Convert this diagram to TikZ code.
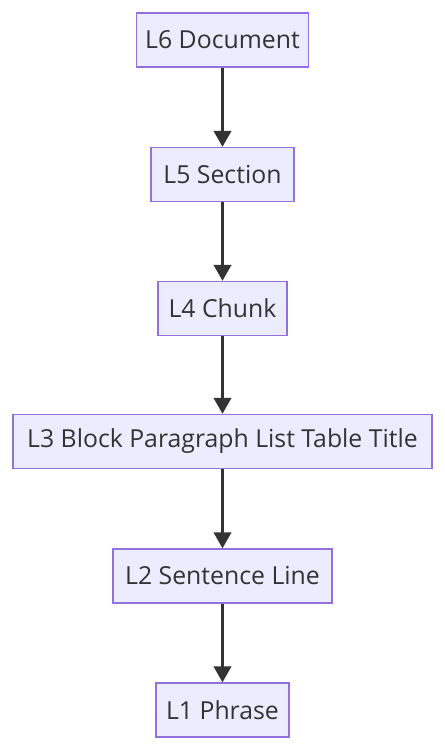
\documentclass[tikz,border=0pt]{standalone}
\usepackage{fontspec}
\setmainfont{Open Sans}
\usetikzlibrary{arrows.meta}
\definecolor{nodefill}{HTML}{ECECFF}
\definecolor{nodeborder}{HTML}{9370DB}
\definecolor{ink}{HTML}{333333}
\begin{document}
\begin{tikzpicture}[x=0.75pt,y=-0.75pt,
  box/.style={draw=nodeborder,fill=nodefill,line width=1pt,text=ink,
    font=\fontsize{18.6}{22}\selectfont,inner sep=0pt,minimum height=54*0.75pt},
  link/.style={draw=ink,line width=2.2pt,-{Triangle[length=12pt,width=13pt]}}]
\useasboundingbox (0,0) rectangle (445,750);
\node[box,minimum width=172*0.75pt] (l6) at (222.5,40) {L6 Document};
\node[box,minimum width=143*0.75pt] (l5) at (222.5,174.5) {L5 Section};
\node[box,minimum width=129*0.75pt] (l4) at (222.5,308.5) {L4 Chunk};
\node[box,minimum width=419*0.75pt] (l3) at (222.5,441.5) {L3 Block Paragraph List Table Title};
\node[box,minimum width=219*0.75pt] (l2) at (222.5,576) {L2 Sentence Line};
\node[box,minimum width=133*0.75pt] (l1) at (222.5,710) {L1 Phrase};
\draw[link] (l6) -- (l5);
\draw[link] (l5) -- (l4);
\draw[link] (l4) -- (l3);
\draw[link] (l3) -- (l2);
\draw[link] (l2) -- (l1);
\end{tikzpicture}
\end{document}
